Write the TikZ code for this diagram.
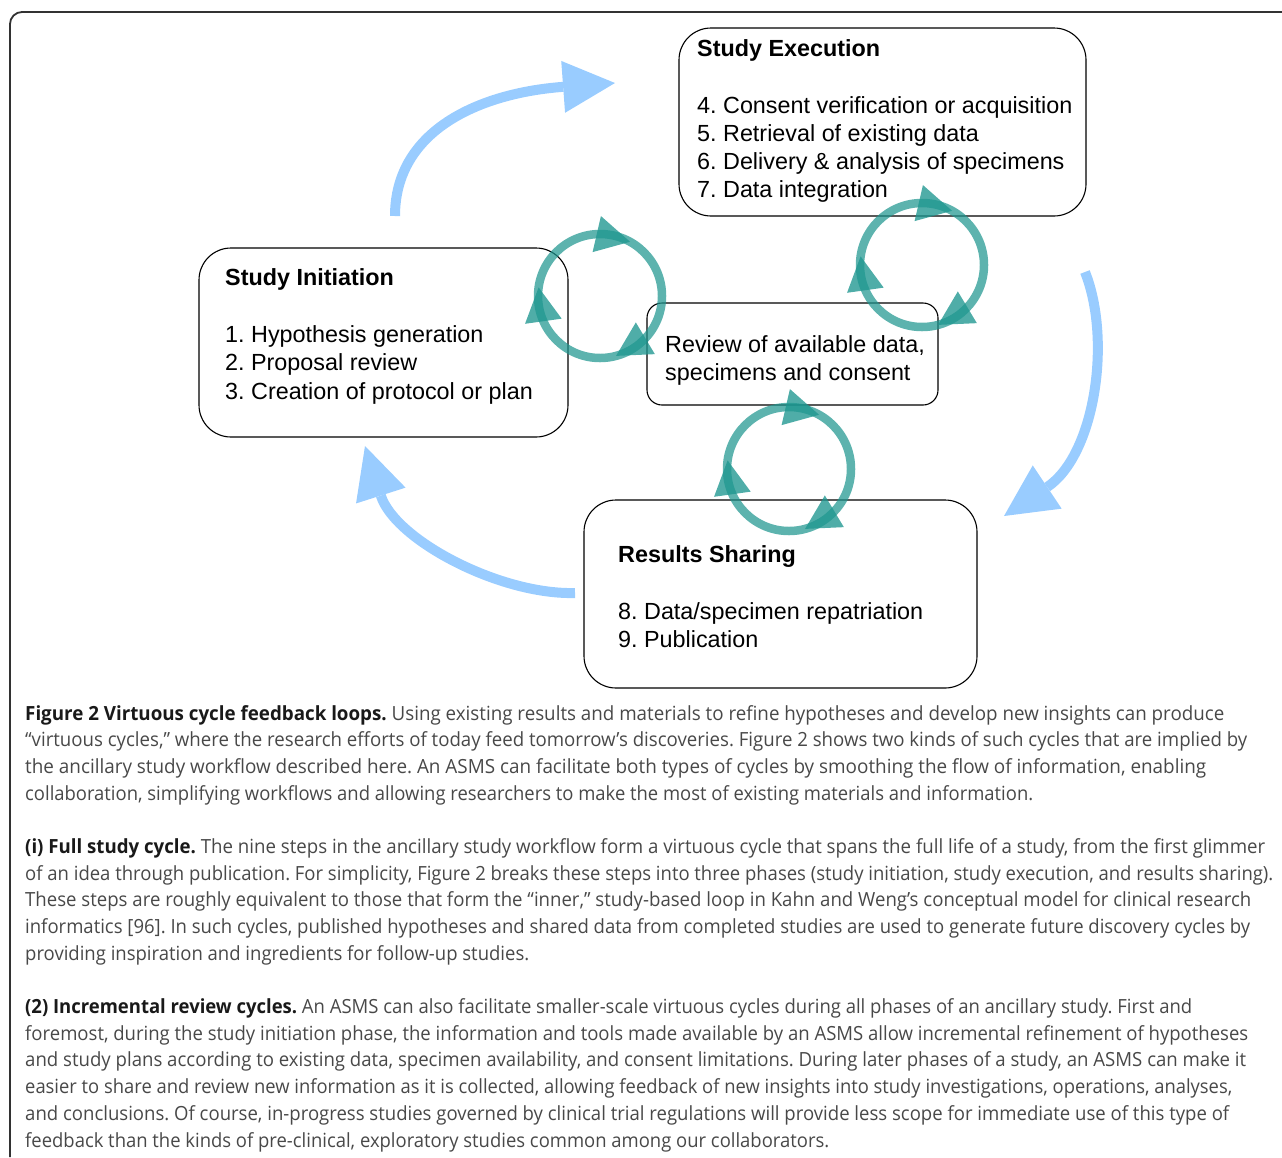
\documentclass[tikz,border=0pt]{standalone}
\usepackage{fontspec}
\setmainfont{Liberation Sans}
\newfontfamily\capfont{Open Sans}
\usetikzlibrary{arrows.meta,calc}
\definecolor{bluearrow}{RGB}{153,204,255}
\definecolor{tealc}{RGB}{30,150,143}
\definecolor{captxt}{RGB}{72,72,72}
\definecolor{capbold}{RGB}{25,25,25}
\definecolor{framec}{RGB}{50,50,50}
\frenchspacing
\begin{document}
\begin{tikzpicture}[x=1pt,y=-1pt,
  phase/.style={draw=black, line width=1.1pt, rounded corners=32pt, inner sep=0pt},
  smallphase/.style={draw=black, line width=1.1pt, rounded corners=15pt, inner sep=0pt},
  dtext/.style={anchor=base west, inner sep=0pt, font=\fontsize{23.35}{28}\selectfont},
  captext/.style={anchor=base west, inner sep=0pt, text=captxt, font=\capfont\fontsize{19.5}{24}\selectfont},
  bigarrow/.style={draw=bluearrow, line width=10pt, -{Triangle[length=52pt,width=52pt,line width=0pt]}},
  ring/.style={draw=tealc, draw opacity=0.72, line width=8.5pt},
  ringhead/.style={fill=tealc, fill opacity=0.78}
]
\useasboundingbox (0,0) rectangle (1282,1157);
% outer frame
\draw[framec, line width=1.8pt, rounded corners=12pt] (10,1157) -- (10,12) -- (1282,12);

% phase boxes
\node[phase, minimum width=407pt, minimum height=188pt] (exec) at (882.5,122) {};
\node[phase, minimum width=369pt, minimum height=189pt] (init) at (383.5,342.5) {};
\node[smallphase, minimum width=291pt, minimum height=102pt] (review) at (792.5,354) {};
\node[phase, minimum width=393pt, minimum height=188pt] (results) at (780.5,594) {};

% texts
\node[dtext] (execT) at (697,56) {\textbf{Study Execution}};
\node[dtext] (e4) at (697,113) {4. Consent verification or acquisition};
\node[dtext] (e5) at (697,141) {5. Retrieval of existing data};
\node[dtext] (e6) at (697,169) {6. Delivery \& analysis of specimens};
\node[dtext] (e7) at (697,197) {7. Data integration};

\node[dtext] (initT) at (225,285) {\textbf{Study Initiation}};
\node[dtext] (i1) at (225,342) {1. Hypothesis generation};
\node[dtext] (i2) at (225,370) {2. Proposal review};
\node[dtext] (i3) at (225,399) {3. Creation of protocol or plan};

\node[dtext] (r1) at (665,352) {Review of available data,};
\node[dtext] (r2) at (665,380) {specimens and consent};

\node[dtext] (resT) at (618,562) {\textbf{Results Sharing}};
\node[dtext] (s8) at (618,619) {8. Data/specimen repatriation};
\node[dtext] (s9) at (618,647) {9. Publication};

% big blue arrows
\coordinate (a1s) at (395,216); \coordinate (a1e) at (615,83);
\coordinate (a2s) at (1085,272); \coordinate (a2e) at (1004,516);
\coordinate (a3s) at (575,593); \coordinate (a3e) at (365,446);
\draw[bigarrow] (a1s) .. controls (395,130) and (480,93) .. (a1e);
\draw[bigarrow] (a2s) .. controls (1112,340) and (1095,455) .. (a2e);
\draw[bigarrow] (a3s) .. controls (500,595) and (395,540) .. (a3e);

% teal review cycles
\coordinate (cA) at (600,296);
\coordinate (cB) at (922,265);
\coordinate (cC) at (789,469);
\foreach \c in {cA,cB,cC}{
  \draw[ring] (\c) circle[radius=62pt];
  \foreach \b in {-93,156,43}{
    \coordinate (hb) at ($(\c)+(\b:62)$);
    \coordinate (ht) at ($(\c)+({\b+32}:62)$);
    \fill[ringhead] ($(hb)!18.5pt!90:(ht)$) -- (ht) -- ($(hb)!18.5pt!-90:(ht)$) -- cycle;
  }
}

% caption
\def\bl{720}\def\pit{26.69}
\node[captext] (c1) at (25,{\bl+0*\pit}) {\resizebox{1199pt}{\height}{\textcolor{capbold}{\textbf{Figure 2 Virtuous cycle feedback loops.}} Using existing results and materials to refine hypotheses and develop new insights can produce}};
\node[captext] (c2) at (25,{\bl+1*\pit}) {\resizebox{1222pt}{\height}{“virtuous cycles,” where the research efforts of today feed tomorrow’s discoveries. Figure 2 shows two kinds of such cycles that are implied by}};
\node[captext] (c3) at (25,{\bl+2*\pit}) {\resizebox{1181pt}{\height}{the ancillary study workflow described here. An ASMS can facilitate both types of cycles by smoothing the flow of information, enabling}};
\node[captext] (c4) at (25,{\bl+3*\pit}) {\resizebox{1008pt}{\height}{collaboration, simplifying workflows and allowing researchers to make the most of existing materials and information.}};
\node[captext] (c5) at (25,{\bl+5*\pit}) {\resizebox{1240pt}{\height}{\textcolor{capbold}{\textbf{(i) Full study cycle.}} The nine steps in the ancillary study workflow form a virtuous cycle that spans the full life of a study, from the first glimmer}};
\node[captext] (c6) at (25,{\bl+6*\pit}) {\resizebox{1248pt}{\height}{of an idea through publication. For simplicity, Figure 2 breaks these steps into three phases (study initiation, study execution, and results sharing).}};
\node[captext] (c7) at (25,{\bl+7*\pit}) {\resizebox{1226pt}{\height}{These steps are roughly equivalent to those that form the “inner,” study-based loop in Kahn and Weng’s conceptual model for clinical research}};
\node[captext] (c8) at (25,{\bl+8*\pit}) {\resizebox{1225pt}{\height}{informatics [96]. In such cycles, published hypotheses and shared data from completed studies are used to generate future discovery cycles by}};
\node[captext] (c9) at (25,{\bl+9*\pit}) {\resizebox{504pt}{\height}{providing inspiration and ingredients for follow-up studies.}};
\node[captext] (c10) at (25,{\bl+11*\pit}) {\resizebox{1167pt}{\height}{\textcolor{capbold}{\textbf{(2) Incremental review cycles.}} An ASMS can also facilitate smaller-scale virtuous cycles during all phases of an ancillary study. First and}};
\node[captext] (c11) at (25,{\bl+12*\pit}) {\resizebox{1223pt}{\height}{foremost, during the study initiation phase, the information and tools made available by an ASMS allow incremental refinement of hypotheses}};
\node[captext] (c12) at (25,{\bl+13*\pit}) {\resizebox{1221pt}{\height}{and study plans according to existing data, specimen availability, and consent limitations. During later phases of a study, an ASMS can make it}};
\node[captext] (c13) at (25,{\bl+14*\pit}) {\resizebox{1207pt}{\height}{easier to share and review new information as it is collected, allowing feedback of new insights into study investigations, operations, analyses,}};
\node[captext] (c14) at (25,{\bl+15*\pit}) {\resizebox{1204pt}{\height}{and conclusions. Of course, in-progress studies governed by clinical trial regulations will provide less scope for immediate use of this type of}};
\node[captext] (c15) at (25,{\bl+16*\pit}) {\resizebox{804pt}{\height}{feedback than the kinds of pre-clinical, exploratory studies common among our collaborators.}};
\end{tikzpicture}
\end{document}
